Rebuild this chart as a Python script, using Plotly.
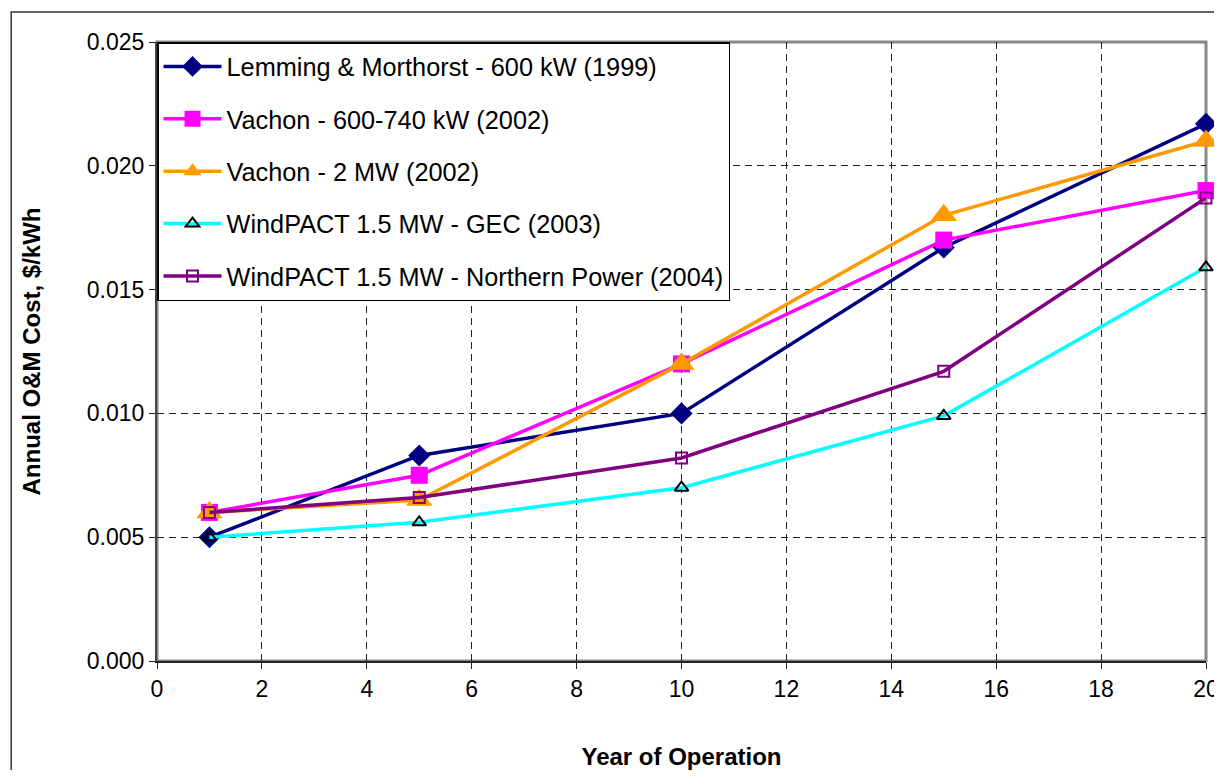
import plotly.graph_objects as go

years = [1, 5, 10, 15, 20]

lemming = [0.0050, 0.0083, 0.0100, 0.0167, 0.0217]
vachon_600 = [0.0060, 0.0075, 0.0120, 0.0170, 0.0190]
vachon_2mw = [0.0060, 0.0065, 0.0120, 0.0180, 0.0210]
windpact_gec = [0.0050, 0.0056, 0.0070, 0.0099, 0.0159]
windpact_np = [0.0060, 0.0066, 0.0082, 0.0117, 0.0187]

x_ticks = list(range(0, 21, 2))
y_ticks = [0.000, 0.005, 0.010, 0.015, 0.020, 0.025]

FONT = 'Liberation Sans, Arial, sans-serif'

series = [
    ('Lemming & Morthorst - 600 kW (1999)', lemming, '#000080',
     dict(symbol='diamond', size=17, color='#000080')),
    ('Vachon - 600-740 kW (2002)', vachon_600, '#FF00FF',
     dict(symbol='square', size=17, color='#FF00FF')),
    ('Vachon - 2 MW (2002)', vachon_2mw, '#FF9900',
     dict(symbol='triangle-up', size=23, color='#FF9900')),
    ('WindPACT 1.5 MW - GEC (2003)', windpact_gec, '#00FFFF',
     dict(symbol='triangle-up-open', size=12, color='black', line=dict(width=2, color='black'))),
    ('WindPACT 1.5 MW - Northern Power (2004)', windpact_np, '#800080',
     dict(symbol='square-open', size=11, color='#800080', line=dict(width=2, color='#800080'))),
]

fig = go.Figure()

for i, (name, vals, color, marker) in enumerate(series):
    fig.add_trace(go.Scatter(
        x=years,
        y=vals,
        name=name,
        legendgroup=f'g{i}',
        mode='lines+markers',
        line=dict(color=color, width=3.5),
        marker=marker,
        cliponaxis=False,
    ))

# page body adds an 8px offset, so the figure is sized to fit inside it
fig.update_layout(
    width=1214,
    height=762,
    margin=dict(l=149, r=16, t=34, b=109, autoexpand=False),
    plot_bgcolor='white',
    paper_bgcolor='white',
    font=dict(family=FONT, size=23, color='black'),
    showlegend=True,
    legend=dict(
        x=0, y=1,
        xanchor='left', yanchor='top',
        bgcolor='white',
        bordercolor='black',
        borderwidth=1.5,
        font=dict(family=FONT, size=25.3, color='black'),
        itemwidth=58,
        traceorder='grouped',
        tracegroupgap=16.5,
    ),
    shapes=[
        # grey plot-area frame
        dict(type='rect', xref='paper', yref='paper', x0=0, x1=1, y0=0, y1=1,
             line=dict(color='#878787', width=3), layer='below'),
        # outer chart border
        dict(type='rect', xref='paper', yref='paper', x0=-0.139, x1=1.2, y0=-0.5, y1=1.0485,
             line=dict(color='#333333', width=1.5), layer='below'),
    ],
)

fig.update_xaxes(
    range=[0, 20],
    tickvals=x_ticks,
    ticktext=[str(v) for v in x_ticks],
    automargin=False,
    ticklabeloverflow='allow',
    showgrid=True,
    gridcolor='#222222',
    griddash='7px,5px',
    gridwidth=1,
    zeroline=False,
    showline=True,
    linecolor='#222222',
    linewidth=2,
    ticks='outside',
    ticklen=6,
    tickcolor='#222222',
    tickfont=dict(family=FONT, size=23, color='black'),
    title=dict(text='<b>Year of Operation</b>', standoff=55,
               font=dict(family=FONT, size=24, color='black')),
)

fig.update_yaxes(
    range=[0, 0.025],
    tickvals=y_ticks,
    ticktext=[f'{v:.3f}' for v in y_ticks],
    automargin=False,
    ticklabeloverflow='allow',
    showgrid=True,
    gridcolor='#222222',
    griddash='7px,5px',
    gridwidth=1,
    zeroline=False,
    showline=True,
    linecolor='#444444',
    linewidth=2,
    ticks='outside',
    ticklen=6,
    tickcolor='#222222',
    tickfont=dict(family=FONT, size=23, color='black'),
    title=dict(text='<b>Annual O&M Cost, $/kWh</b>', standoff=39,
               font=dict(family=FONT, size=24, color='black')),
)

fig.write_html("out.html")
